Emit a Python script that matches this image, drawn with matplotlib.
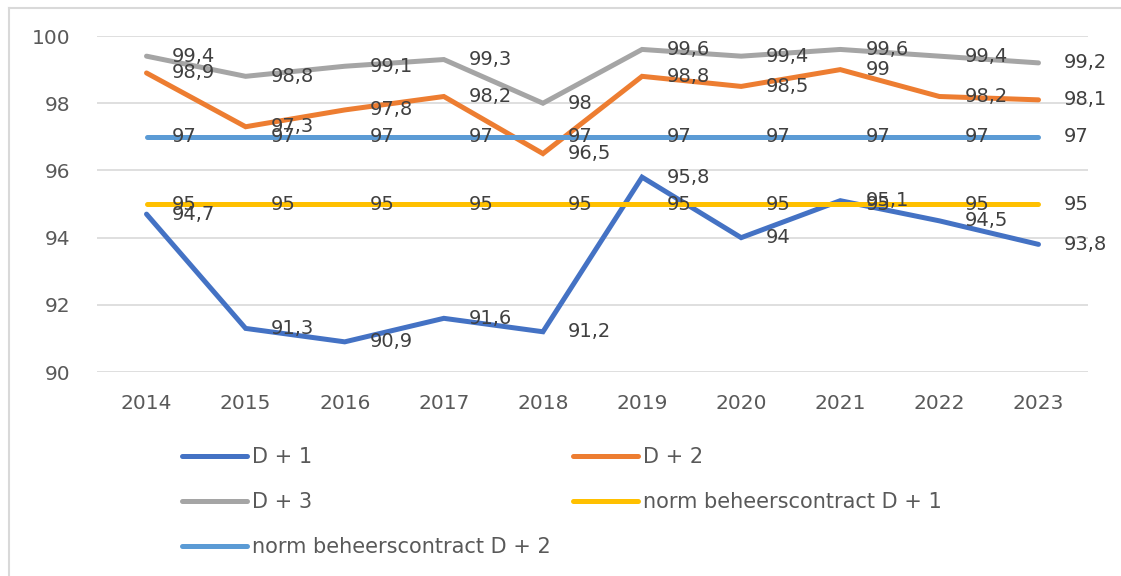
import matplotlib
matplotlib.use("Agg")
import matplotlib.pyplot as plt
from matplotlib.lines import Line2D

# data
years = ["2014", "2015", "2016", "2017", "2018", "2019", "2020", "2021", "2022", "2023"]
d1 = [94.7, 91.3, 90.9, 91.6, 91.2, 95.8, 94.0, 95.1, 94.5, 93.8]
d2 = [98.9, 97.3, 97.8, 98.2, 96.5, 98.8, 98.5, 99.0, 98.2, 98.1]
d3 = [99.4, 98.8, 99.1, 99.3, 98.0, 99.6, 99.4, 99.6, 99.4, 99.2]
norm_d1 = [95, 95, 95, 95, 95, 95, 95, 95, 95, 95]
norm_d2 = [97, 97, 97, 97, 97, 97, 97, 97, 97, 97]

names = ["D + 1", "D + 2", "D + 3", "norm beheerscontract D + 1", "norm beheerscontract D + 2"]
series = [d1, d2, d3, norm_d1, norm_d2]
colors = ["#4472C4", "#ED7D31", "#A5A5A5", "#FFC000", "#5B9BD5"]

fig = plt.figure(figsize=(11.21, 5.76), dpi=100)
ax = fig.add_axes([0.0865, 0.354, 0.9706 - 0.0865, 0.9375 - 0.354])

# chart border (only left and top edges are visible in the crop)
bx, by = 8.5 / 1121, 1 - 7.5 / 576
fig.add_artist(Line2D([bx, bx], [0, by], transform=fig.transFigure,
                      color="#D9D9D9", linewidth=1.5))
fig.add_artist(Line2D([bx, 1], [by, by], transform=fig.transFigure,
                      color="#D9D9D9", linewidth=1.5))

x = list(range(len(years)))
lines = []
for vals, name, c in zip(series, names, colors):
    ln, = ax.plot(x, vals, color=c, linewidth=3.6, label=name,
                  solid_capstyle="round", solid_joinstyle="miter")
    lines.append(ln)

# data labels to the right of each point
for vals in series:
    for xi, v in zip(x, vals):
        txt = f"{v:g}".replace(".", ",")
        ax.annotate(txt, (xi, v), xytext=(18, 0), textcoords="offset points",
                    ha="left", va="center", fontsize=14, color="#404040")

ax.set_xlim(-0.5, 9.5)
ax.set_ylim(90, 100)
ax.set_yticks([90, 92, 94, 96, 98, 100])
ax.set_xticks(x)
ax.set_xticklabels(years)
ax.tick_params(length=0, labelsize=14.5, labelcolor="#595959")
ax.tick_params(axis="y", pad=19)
ax.tick_params(axis="x", pad=16)
ax.grid(axis="y", color="#D9D9D9", linewidth=1.2)
ax.set_axisbelow(True)
for s in ax.spines.values():
    s.set_visible(False)

order = [0, 2, 4, 1, 3]
fig.legend([lines[i] for i in order], [names[i] for i in order],
           ncol=2, loc="upper left", bbox_to_anchor=(182 / 1121, 1 - 447 / 576),
           frameon=False, fontsize=15, handlelength=3.1, handletextpad=0.25,
           labelspacing=1.2, columnspacing=1.1, borderpad=0, borderaxespad=0,
           labelcolor="#595959")

fig.savefig("out.png", dpi=100)
